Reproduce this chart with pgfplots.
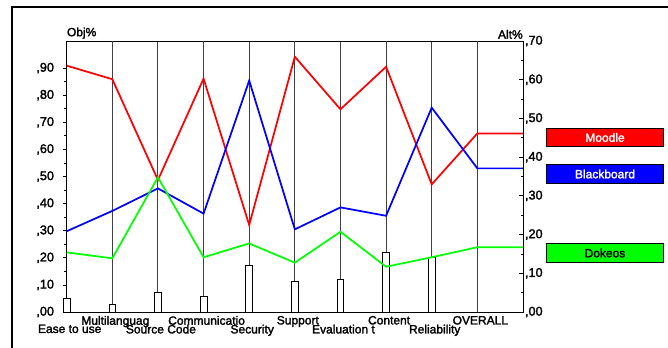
\documentclass[border=0pt]{standalone}
\usepackage{pgfplots}
\pgfplotsset{compat=1.18}
\usepackage{fontspec}
\setmainfont{Liberation Sans}
\newfontfamily\labfont{Liberation Sans}[FakeBold=2]
\definecolor{mred}{RGB}{255,0,0}
\definecolor{mblue}{RGB}{0,0,255}
\definecolor{mgreen}{RGB}{0,255,0}
\begin{document}
\begin{tikzpicture}[x=0.75pt,y=0.75pt,font=\labfont\fontsize{9}{10}\selectfont]
\useasboundingbox (0,0) rectangle (668,347);
\draw[line width=1.5pt] (12,-10) -- (12,340.3) -- (680,340.3);
\begin{axis}[
  at={(50.03pt,26.25pt)}, anchor=south west, scale only axis,
  width=342.2pt, height=203.25pt,
  xmin=0, xmax=10, ymin=0, ymax=1,
  axis line style={black, line width=0.7pt},
  xtick={0,2,4,6,8},
  xticklabels={Ease to use,Source Code,Security,Evaluation t,Reliability},
  extra x ticks={1,3,5,7,9},
  extra x tick labels={Multilanguag,Communicatio,Support,Content,OVERALL},
  xmajorgrids=true,
  grid style={black!75, line width=0.7pt},
  extra x tick style={grid=major, xticklabel style={yshift=6.5pt}},
  x tick style={draw=none},
  xticklabel style={anchor=north, xshift=2.25pt, yshift=-6pt, font=\labfont\fontsize{9}{10}\selectfont},
  ytick={0,0.1,0.2,0.3,0.4,0.5,0.6,0.7,0.8,0.9},
  yticklabels={{,00},{,10},{,20},{,30},{,40},{,50},{,60},{,70},{,80},{,90}},
  minor y tick num=1,
  ytick pos=left,
  y tick style={black, line width=0.6pt},
  ytick align=outside,
  major tick length=3pt, minor tick length=1.8pt,
  yticklabel style={font=\labfont\fontsize{9.5}{10}\selectfont, xshift=-3pt},
  clip=false,
]
\addplot[ybar, bar width=5pt, fill=white, draw=black, line width=0.6pt] coordinates {
 (0,0.050) (1,0.028) (2,0.074) (3,0.058) (4,0.171) (5,0.113) (6,0.121) (7,0.220) (8,0.202)};
\addplot[mred, line width=1.3pt] coordinates {
 (0,0.909) (1,0.859) (2,0.487) (3,0.861) (4,0.321) (5,0.942) (6,0.748) (7,0.905) (8,0.471) (9,0.659) (10,0.659)};
\addplot[mblue, line width=1.3pt] coordinates {
 (0,0.298) (1,0.373) (2,0.456) (3,0.363) (4,0.854) (5,0.305) (6,0.386) (7,0.355) (8,0.754) (9,0.530) (10,0.530)};
\addplot[mgreen, line width=1.3pt] coordinates {
 (0,0.220) (1,0.198) (2,0.497) (3,0.202) (4,0.253) (5,0.182) (6,0.296) (7,0.167) (8,0.202) (9,0.239) (10,0.239)};
\node[anchor=south west, inner sep=0pt, yshift=1.5pt] at (rel axis cs:0,1) {Obj\%};
\node[anchor=south east, inner sep=0pt, yshift=1.5pt] at (rel axis cs:1,1) {Alt\%};
\end{axis}
\begin{axis}[
  at={(50.03pt,26.25pt)}, anchor=south west, scale only axis,
  width=342.2pt, height=203.25pt,
  xmin=0, xmax=10, ymin=0, ymax=0.7,
  axis x line=none,
  axis y line*=right,
  axis line style={black, line width=0.7pt},
  ytick={0,0.1,0.2,0.3,0.4,0.5,0.6,0.7},
  yticklabels={{,00},{,10},{,20},{,30},{,40},{,50},{,60},{,70}},
  minor y tick num=1,
  ytick align=inside,
  y tick style={black, line width=0.6pt},
  major tick length=3pt, minor tick length=1.8pt,
  yticklabel style={font=\labfont\fontsize{9.5}{10}\selectfont, xshift=-2pt},
]
\addplot[draw=none] coordinates {(0,0)};
\end{axis}
\node[draw=black, fill=mred, text=white, minimum width=87.5pt, minimum height=13.9pt, inner sep=0pt, line width=0.7pt] at (605,209.5) {Moodle};
\node[draw=black, fill=mblue, text=white, minimum width=87.5pt, minimum height=13.9pt, inner sep=0pt, line width=0.7pt] at (605,173) {Blackboard};
\node[draw=black, fill=mgreen, text=black, minimum width=87.5pt, minimum height=13.9pt, inner sep=0pt, line width=0.7pt] at (605,94) {Dokeos};
\end{tikzpicture}
\end{document}
